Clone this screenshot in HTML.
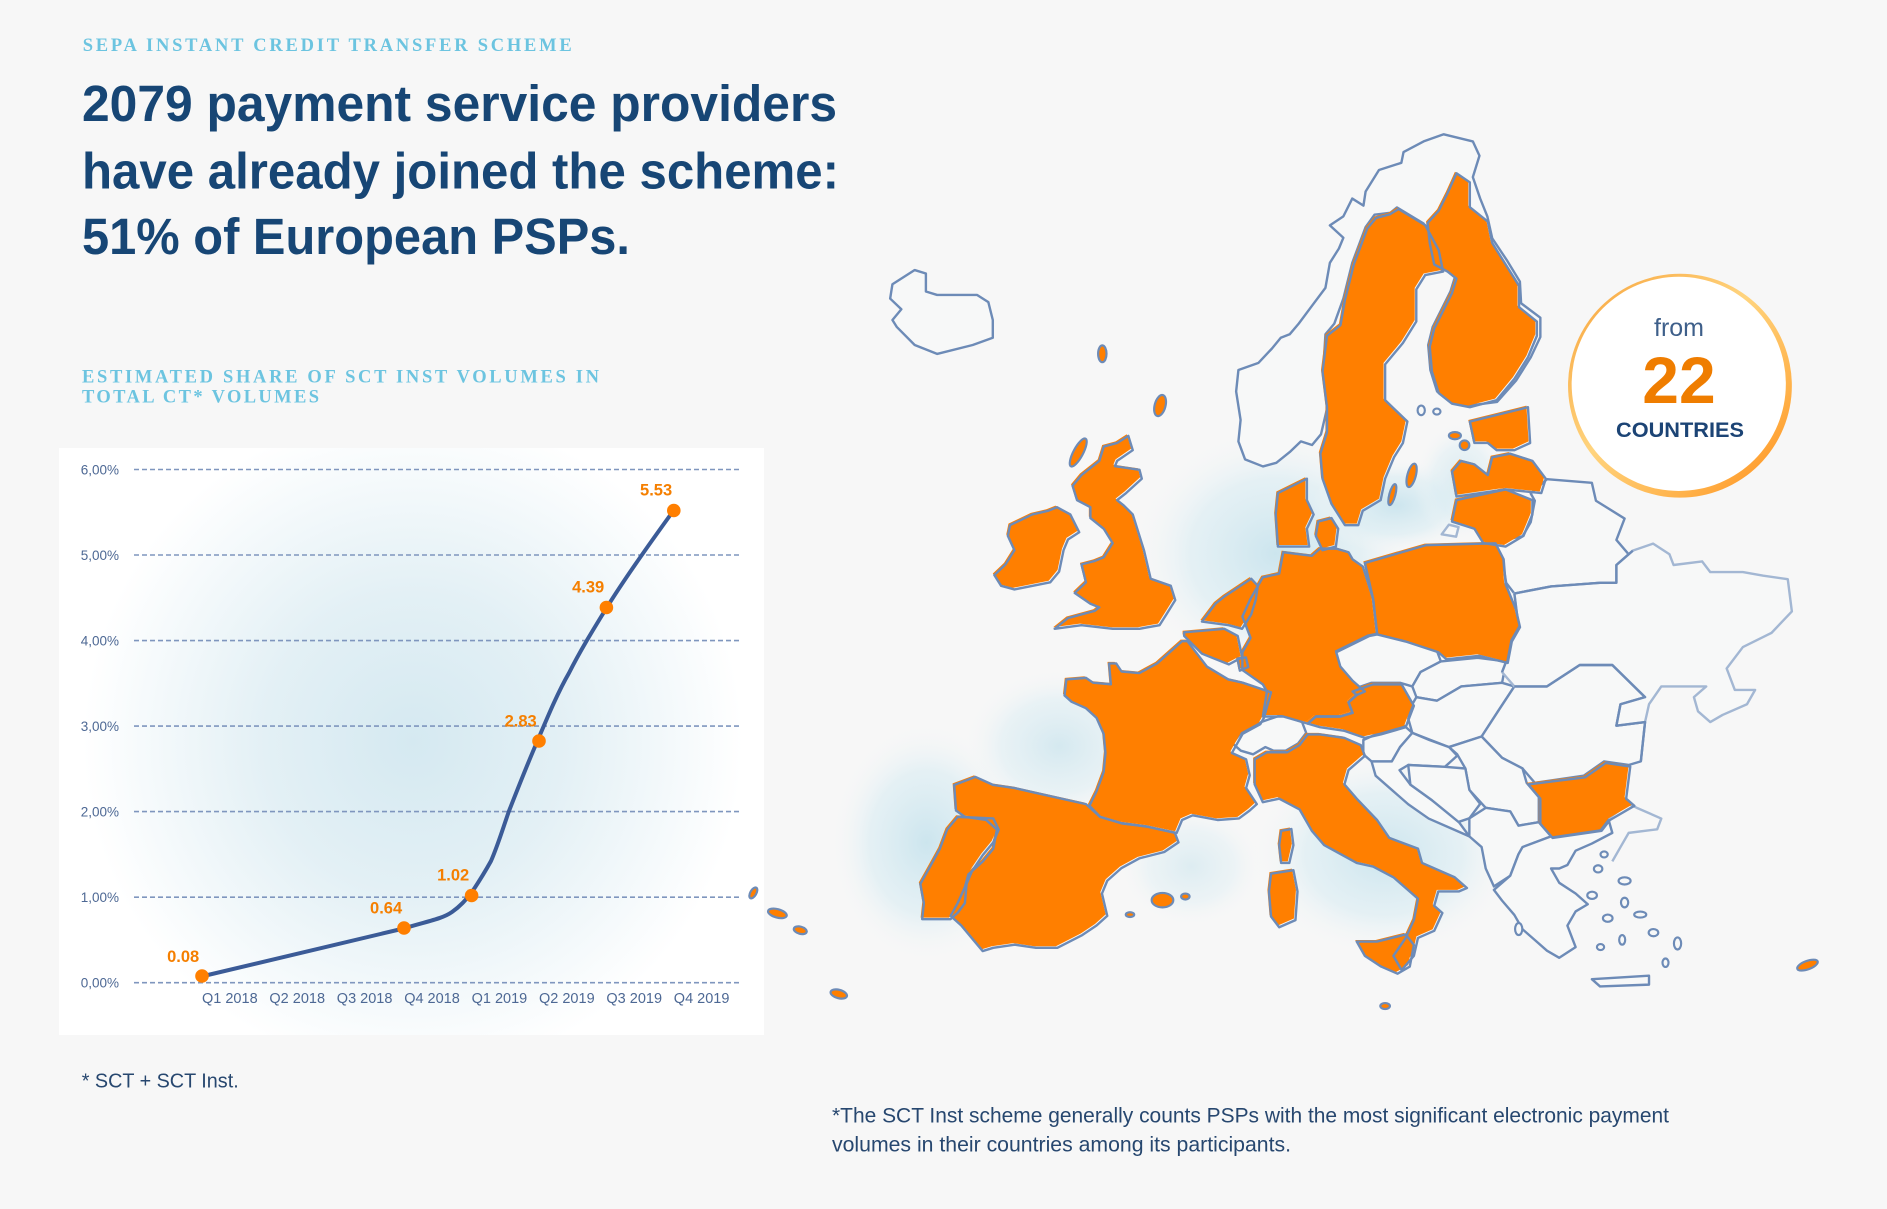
<!DOCTYPE html>
<html>
<head>
<meta charset="utf-8">
<style>
  html,body{margin:0;padding:0;background:#f7f7f7;}
  svg{display:block;}
  .sans{font-family:"Liberation Sans", sans-serif;}
  .serif{font-family:"Liberation Serif", serif;}
</style>
</head>
<body>
<svg width="1887" height="1209" viewBox="0 0 1887 1209" xmlns="http://www.w3.org/2000/svg">
  <defs>
    <radialGradient id="chartGlow" cx="413" cy="742" r="330" gradientUnits="userSpaceOnUse">
      <stop offset="0" stop-color="#d5e9f1"/>
      <stop offset="0.45" stop-color="#e3f0f5"/>
      <stop offset="1" stop-color="#ffffff"/>
    </radialGradient>
    <radialGradient id="mapGlow" cx="0.5" cy="0.5" r="0.5">
      <stop offset="0" stop-color="#cce5ee" stop-opacity="1"/>
      <stop offset="0.6" stop-color="#dbedf3" stop-opacity="0.65"/>
      <stop offset="1" stop-color="#f7f7f7" stop-opacity="0"/>
    </radialGradient>
    <linearGradient id="ringGrad" x1="0" y1="0" x2="1" y2="1">
      <stop offset="0" stop-color="#f7a23a"/>
      <stop offset="0.45" stop-color="#ffd47e"/>
      <stop offset="0.75" stop-color="#ffb24a"/>
      <stop offset="1" stop-color="#ff8a14"/>
    </linearGradient>
  </defs>

  <rect x="0" y="0" width="1887" height="1209" fill="#f7f7f7"/>

  <!-- Header texts -->
  <text class="serif" x="82.7" y="51" font-size="18.5" font-weight="bold" fill="#6cc4e0" textLength="489" lengthAdjust="spacing">SEPA INSTANT CREDIT TRANSFER SCHEME</text>
  <g class="sans" font-weight="bold" fill="#174675" font-size="51">
    <text x="82" y="121" textLength="755" lengthAdjust="spacingAndGlyphs">2079 payment service providers</text>
    <text x="82" y="188.5" textLength="757" lengthAdjust="spacingAndGlyphs">have already joined the scheme:</text>
    <text x="82" y="254" textLength="548" lengthAdjust="spacingAndGlyphs">51% of European PSPs.</text>
  </g>
  <text class="serif" x="82" y="382.5" font-size="18.5" font-weight="bold" fill="#6cc4e0" textLength="517" lengthAdjust="spacing">ESTIMATED SHARE OF SCT INST VOLUMES IN</text>
  <text class="serif" x="82" y="402.5" font-size="18.5" font-weight="bold" fill="#6cc4e0" textLength="237" lengthAdjust="spacing">TOTAL CT* VOLUMES</text>

  <!-- Chart box -->
  <rect x="59" y="448" width="705" height="587" fill="url(#chartGlow)"/>
  <g stroke="#7f96be" stroke-width="1.6" stroke-dasharray="5 3" fill="none">
    <line x1="134" y1="469.5" x2="739" y2="469.5"/>
    <line x1="134" y1="555" x2="739" y2="555"/>
    <line x1="134" y1="640.6" x2="739" y2="640.6"/>
    <line x1="134" y1="726.1" x2="739" y2="726.1"/>
    <line x1="134" y1="811.6" x2="739" y2="811.6"/>
    <line x1="134" y1="897.2" x2="739" y2="897.2"/>
    <line x1="134" y1="982.7" x2="739" y2="982.7"/>
  </g>
  <g class="sans" font-size="13.5" fill="#4d6894" text-anchor="end">
    <text x="119" y="474.5">6,00%</text>
    <text x="119" y="560">5,00%</text>
    <text x="119" y="645.6">4,00%</text>
    <text x="119" y="731.1">3,00%</text>
    <text x="119" y="816.6">2,00%</text>
    <text x="119" y="902.2">1,00%</text>
    <text x="119" y="987.7">0,00%</text>
  </g>
  <g class="sans" font-size="14.5" fill="#4d6894">
    <text x="202" y="1003">Q1 2018</text>
    <text x="269.4" y="1003">Q2 2018</text>
    <text x="336.8" y="1003">Q3 2018</text>
    <text x="404.2" y="1003">Q4 2018</text>
    <text x="471.6" y="1003">Q1 2019</text>
    <text x="539" y="1003">Q2 2019</text>
    <text x="606.4" y="1003">Q3 2019</text>
    <text x="673.8" y="1003">Q4 2019</text>
  </g>
  <path d="M201.5,976.5 L403.6,928.5 C428,921 442,919 452,912 C462,905 467,898 472,892 C480,880 486,870 491,861 C498,845 503,828 509,811 C518,788 527,765 537,742 C548,716 558,692 569,673 C580,651 593,630 606.5,608 C625,578 650,543 673.6,510.5" fill="none" stroke="#3b5b97" stroke-width="4" stroke-linecap="round" stroke-linejoin="round"/>
  <g fill="#ff7f00">
    <circle cx="202" cy="976" r="6.8"/>
    <circle cx="404" cy="928" r="6.8"/>
    <circle cx="471.6" cy="895.5" r="6.8"/>
    <circle cx="539" cy="741" r="6.8"/>
    <circle cx="606.4" cy="607.5" r="6.8"/>
    <circle cx="673.8" cy="510.5" r="6.8"/>
  </g>
  <g class="sans" font-size="16.5" font-weight="bold" fill="#f57f00" text-anchor="middle">
    <text x="183.2" y="962">0.08</text>
    <text x="386.1" y="913.5">0.64</text>
    <text x="453.2" y="880.5">1.02</text>
    <text x="520.7" y="726.5">2.83</text>
    <text x="588.2" y="592.5">4.39</text>
    <text x="656.1" y="495.5">5.53</text>
  </g>

  <!-- footnotes -->
  <text class="sans" x="81.7" y="1087.7" font-size="20.5" fill="#27476f" textLength="157" lengthAdjust="spacingAndGlyphs">* SCT + SCT Inst.</text>
  <text class="sans" x="832" y="1122.3" font-size="21" fill="#27476f" textLength="837" lengthAdjust="spacingAndGlyphs">*The SCT Inst scheme generally counts PSPs with the most significant electronic payment</text>
  <text class="sans" x="832" y="1151.7" font-size="21" fill="#27476f" textLength="459" lengthAdjust="spacingAndGlyphs">volumes in their countries among its participants.</text>

  <!-- MAP in display coords -->
  <g transform="scale(1.2034)">
    <!-- glows -->
    <ellipse cx="1060" cy="460" rx="120" ry="105" fill="url(#mapGlow)"/>
    <ellipse cx="1160" cy="420" rx="70" ry="40" fill="url(#mapGlow)"/>
    <ellipse cx="1150" cy="710" rx="110" ry="85" fill="url(#mapGlow)"/>
    <ellipse cx="770" cy="700" rx="80" ry="100" fill="url(#mapGlow)"/>
    <ellipse cx="880" cy="620" rx="80" ry="65" fill="url(#mapGlow)" opacity="0.8"/>
    <ellipse cx="1215" cy="400" rx="40" ry="50" fill="url(#mapGlow)" opacity="0.7"/>
    <ellipse cx="990" cy="720" rx="60" ry="50" fill="url(#mapGlow)" opacity="0.6"/>

    <!-- non-orange land (bg fill + outline) -->
    <g fill="#f7f8f8" stroke="#6d8bb7" stroke-width="2" stroke-linejoin="round">
      <path d="M741.6,236.2 L760.1,224.4 L769.4,227.3 L769.4,242.2 L778.7,245.1 L812,245.1 L821.3,251.1 L825,265.9 L825,280.7 L808.3,286.7 L778.7,294.1 L760.1,286.7 L745.3,271.8 L741.6,265.9 L749,257 L739.7,248.1 Z"/>
      <path d="M1049.5,387.6 L1034.6,381.7 L1029.1,366.8 L1030.9,349 L1027.2,325.3 L1029.1,307.5 L1045.8,301.5 L1056.9,289.7 L1064.3,280.7 L1071.7,277.8 L1079.2,268.9 L1090.3,254 L1101.4,239.2 L1105.1,218.4 L1112.6,206.5 L1116.3,197.6 L1105.1,187.3 L1116.3,179.8 L1123.7,165 L1133,170.9 L1134.8,159.1 L1145.9,141.3 L1164.5,135.3 L1166.3,126.4 L1183,117.5 L1199.7,111.6 L1223.9,117.5 L1229.4,129.4 L1223.9,147.2 L1230,165 L1236,180 L1240,198 L1252,216 L1263,234 L1264,252 L1280,264 L1280,280 L1272,297 L1260,316 L1244,334 L1220.1,337.1 L1205.3,334.2 L1194.2,325.3 L1188.6,307.5 L1186.8,286.7 L1190.5,271.8 L1197.9,257 L1205.3,242.2 L1209,230.3 L1201.6,224.4 L1197.9,224.4 L1194.2,206.5 L1183,185.8 L1160.8,172.4 L1155.2,176.9 L1142.2,178.4 L1134.8,188.7 L1123.7,218.4 L1116.3,248.1 L1108.8,268.9 L1101.4,277.8 L1099.6,307.5 L1103.3,337.1 L1097.7,360.9 L1090.3,369.8 L1081,366.8 L1071.7,375.7 L1060.6,384.6 Z"/>
      <path d="M1031.1,609 L1048.1,600 L1065,594.1 L1082,600 L1085.4,609 L1078.6,617.9 L1068.4,623.8 L1058.3,623.8 L1051.5,620.8 L1041.3,626.8 L1031.1,623.8 L1024.3,617.9 Z"/>
      <path d="M1109.1,540.7 L1136.3,527.3 L1143.1,525.9 L1166.8,531.8 L1194,540.7 L1197.3,549.6 L1180.4,558.5 L1173.6,570.4 L1163.4,567.4 L1139.7,567.4 L1122.7,573.3 L1112.5,552.6 Z"/>
      <path d="M1197.3,549.6 L1227.9,546.6 L1251.6,549.6 L1248.2,567.4 L1214.3,570.4 L1194,582.3 L1177,579.3 L1173.6,570.4 L1180.4,558.5 Z"/>
      <path d="M1177,579.3 L1194,582.3 L1214.3,570.4 L1248.2,567.4 L1258.4,570.4 L1244.8,591.1 L1231.2,612 L1204.1,620.8 L1173.6,609 L1170.2,597.1 L1173.6,585.2 Z"/>
      <path d="M1258.4,570.4 L1285.5,570.4 L1312.7,552.6 L1339.8,552.6 L1367,579.3 L1346.6,585.2 L1343.2,603 L1367,600 L1363.5,632.7 L1353.4,635.7 L1333,632.7 L1316,644.6 L1275.4,650.5 L1265.2,638.6 L1248.2,629.7 L1231.2,612 L1244.8,591.1 Z"/>
      <path d="M1204.1,620.8 L1231.2,612 L1248.2,629.7 L1265.2,638.6 L1268.6,650.5 L1278.7,662.4 L1278.7,683.2 L1261.8,686.1 L1255,674.3 L1234.6,671.3 L1221,656.4 L1217.7,638.6 L1210.9,626.8 Z"/>
      <path d="M1132.9,614.9 L1146,609 L1166.8,603 L1173.6,609 L1163.4,620.8 L1156.6,632.7 L1139.7,632.7 L1132.9,626.8 Z"/>
      <path d="M1163.4,620.8 L1173.6,609 L1188,615 L1204.1,620.8 L1210.9,628 L1200.7,637.2 L1170.2,635.7 L1163,640 L1172,652 L1190,665 L1210,680 L1221,695 L1207.5,689.1 L1187.2,680.2 L1170.2,668.3 L1156.6,656.4 L1143.1,644.6 L1139.7,632.7 L1156.6,632.7 Z"/>
      <path d="M1170.2,635.7 L1200.7,637.2 L1217.7,638.6 L1221,656.4 L1230,668 L1221,680 L1212,683 L1190,665 L1172,652 Z"/>
      <path d="M1221,680 L1234.6,671.3 L1255,674.3 L1261.8,686.1 L1278.7,683.2 L1288.9,695 L1265.2,703.9 L1261.8,709.9 L1255,727.7 L1241.4,736.6 L1234.6,721.7 L1231.2,703.9 L1221,695 Z"/>
      <path d="M1241.4,739.5 L1255,727.7 L1261.8,709.9 L1265.2,703.9 L1288.9,695 L1329.6,689.1 L1336.4,680.2 L1339.8,692.1 L1322.8,701 L1309.3,706.9 L1302.5,718.8 L1295.7,721.7 L1288.9,721.7 L1295.7,733.6 L1309.3,742.5 L1319.4,751.4 L1309.3,757.4 L1302.5,769.2 L1309.3,787 L1295.7,795.9 L1285.5,790 L1275.4,781.1 L1265.2,772.2 L1258.4,760.3 L1248.2,748.4 Z"/>
      <path d="M1322.8,813.7 L1370.3,810.8 L1370.3,818.2 L1329.6,819.7 Z"/>
      <path d="M1272,410.1 L1285.5,398.2 L1322.8,401.2 L1326.2,416.1 L1350,430.9 L1343.2,448.7 L1353.4,460.6 L1343.2,469.5 L1343.2,484.3 L1329.6,484.3 L1288.9,487.3 L1258.4,493.2 L1251.6,484.3 L1248.2,463.5 L1241.4,450.2 L1265.2,445.7 L1272,433.9 L1275.4,416.1 Z"/>
    </g>
    <g fill="#f7f8f8" stroke="#a3b7d3" stroke-width="2" stroke-linejoin="round">
      <path d="M1258.4,493.2 L1288.9,487.3 L1329.6,484.3 L1343.2,484.3 L1343.2,469.5 L1356.8,457.6 L1373.7,451.7 L1387.3,460.6 L1390.7,469.5 L1414.4,466.5 L1421.2,475.4 L1448.3,475.4 L1465.3,478.4 L1485.6,481.3 L1489,508.1 L1472.1,525.9 L1448.3,537.7 L1434.8,555.5 L1441.6,573.3 L1458.5,573.3 L1451.7,585.2 L1431.4,594.1 L1421.2,600 L1411,591.1 L1407.6,579.3 L1417.8,570.4 L1380.5,570.4 L1370.3,585.2 L1367,600 L1343.2,603 L1346.6,585.2 L1367,579.3 L1339.8,552.6 L1312.7,552.6 L1285.5,570.4 L1258.4,570.4 L1248.2,558.5 L1251.6,549.6 L1255,531.8 L1261.8,519.9 Z"/>
      <path d="M1336.4,680.2 L1353.4,668 L1360.2,671.3 L1380.5,680.2 L1377.1,689.1 L1353.4,692.1 L1346.6,703.9 L1339.8,715.8" fill="none"/>
      <path d="M1198,444 L1204,436 L1212,438 L1210,446 Z"/>
    </g>
    <g fill="none" stroke="#6d8bb7" stroke-width="2" stroke-linejoin="round">
      <path d="M1258.4,493.2 L1288.9,487.3 L1329.6,484.3 L1343.2,484.3 L1343.2,469.5 L1356.8,457.6"/>
      <path d="M1258.4,570.4 L1285.5,570.4 L1312.7,552.6 L1339.8,552.6 L1367,579.3 L1346.6,585.2 L1343.2,603 L1367,600 L1363.5,632.7"/>
      <path d="M1248.2,558.5 L1251.6,549.6 L1255,531.8 L1261.8,519.9 L1258.4,493.2"/>
    </g>
    <g fill="#f7f8f8" stroke="#6d8bb7" stroke-width="1.8">
      <ellipse cx="1333" cy="710" rx="3" ry="2.5"/>
      <ellipse cx="1328" cy="722" rx="3.5" ry="3"/>
      <ellipse cx="1350" cy="732" rx="5" ry="3"/>
      <ellipse cx="1323" cy="744" rx="4" ry="3"/>
      <ellipse cx="1350" cy="750" rx="3" ry="4"/>
      <ellipse cx="1363" cy="760" rx="5" ry="2.5"/>
      <ellipse cx="1336" cy="763" rx="4" ry="3"/>
      <ellipse cx="1374" cy="775" rx="4" ry="3"/>
      <ellipse cx="1348" cy="781" rx="2.5" ry="4"/>
      <ellipse cx="1394" cy="784" rx="3" ry="5"/>
      <ellipse cx="1330" cy="787" rx="3" ry="2.5"/>
      <ellipse cx="1384" cy="800" rx="2.5" ry="3.5"/>
      <ellipse cx="1262" cy="772" rx="3" ry="5"/>
      <ellipse cx="1181" cy="341" rx="3" ry="4"/>
      <ellipse cx="1194" cy="342" rx="3" ry="2.5"/>
    </g>

    <!-- Orange countries -->
    <g fill="#ff7f00">
      <path id="ie" d="M838,435.1 L856.6,426.2 L869.5,423.2 L877,420.2 L888.1,426.2 L895.5,441 L886.2,447 L882.5,455.9 L878.8,473.7 L871.4,482.6 L841.7,488.5 L830.6,485.5 L825,476.6 L834.3,467.7 L841.7,455.9 L836.2,444 Z"/>
      <path id="gb" d="M936.3,360.9 L940,372.8 L927,381.7 L925.2,386.1 L945.6,389.1 L947.5,396.5 L934.5,408.4 L927,414.3 L932.6,418.8 L940,426.2 L949.3,455.9 L954.9,479.6 L971.6,485.5 L975.3,497.4 L967.9,509.3 L962.3,518.2 L945.6,521.2 L923.3,521.2 L897.4,518.2 L875.1,521.2 L886.2,512.3 L908.5,506.3 L912.2,503.4 L904.8,500.4 L891.8,491.5 L901.1,482.6 L897.4,467.7 L908.5,464.8 L915.9,461.8 L923.3,450 L915.9,438.1 L904.8,429.2 L904.8,420.2 L893.7,414.3 L890,402.4 L897.4,393.5 L912.2,381.7 L915.9,369.8 L927,366.8 Z"/>
      <path id="se" d="M1160.8,172.4 L1183,185.8 L1194.2,206.5 L1197.9,224.4 L1183,227.3 L1175.6,239.2 L1175.6,265.9 L1164.5,283.7 L1149.7,301.5 L1149.7,331.2 L1168.2,349 L1164.5,366.8 L1157.1,378.7 L1149.7,396.5 L1146,414.3 L1131.1,423.2 L1127.4,435.1 L1116.3,435.1 L1105.1,417.3 L1097.7,396.5 L1095.9,375.7 L1101.4,357.9 L1101.4,337.1 L1097.7,307.5 L1101.4,277.8 L1112.6,268.9 L1116.3,248.1 L1123.7,218.4 L1134.8,188.7 L1142.2,179.8 L1153.4,176.9 Z"/>
      <path id="fi" d="M1209,142.7 L1220.1,150.2 L1220.1,170.9 L1235,182.8 L1238.7,200.6 L1249.8,218.4 L1261,236.2 L1261,254 L1275.8,265.9 L1275.8,277.8 L1268.4,295.6 L1257.2,313.4 L1242.4,331.2 L1220.1,337.1 L1205.3,334.2 L1194.2,325.3 L1188.6,307.5 L1186.8,286.7 L1190.5,271.8 L1197.9,257 L1205.3,242.2 L1209,230.3 L1201.6,224.4 L1190.5,218.4 L1186.8,200.6 L1185,184 L1194.2,173.9 L1201.6,159.1 Z"/>
      <path id="ee" d="M1220.1,349 L1268.4,337.1 L1270.2,366.8 L1257.2,372.8 L1242.4,372.8 L1235,366.8 L1223.9,366.8 Z"/>
      <path id="lv" d="M1205.3,390.6 L1212.7,381.7 L1223.9,384.6 L1235,393.5 L1238.7,378.7 L1253.5,375.7 L1272.1,381.7 L1283.2,396.5 L1279.5,408.4 L1249.8,405.4 L1209,411.3 Z"/>
      <path id="lt" d="M1209,414.3 L1249.8,405.4 L1272.1,414.3 L1272.1,426.2 L1264.7,444 L1249.8,452.9 L1231.3,450 L1223.9,438.1 L1205.3,432.1 Z"/>
      <path id="dk1" d="M1060.6,408.4 L1084.7,396.5 L1084.7,414.3 L1090.3,426.2 L1084.7,438.1 L1086.6,452.9 L1075.5,452.9 L1060.6,452.9 L1058.8,426.2 Z"/>
      <path id="dk2" d="M1094,432.1 L1105.1,429.2 L1110.7,438.1 L1108.8,452.9 L1097.7,455.9 L1092.1,444 Z"/>
      <path id="fr" d="M884.8,563.3 L901.1,562 L907,566 L921.8,567.3 L920.3,550 L926.2,550 L930.7,556.7 L945.5,558 L960.2,550 L972.1,539.4 L981,531.5 L985.4,531.5 L1001.7,552.7 L1019.4,563.3 L1031.3,566 L1054.9,574 L1049,595.2 L1046,600.5 L1031.3,608.5 L1022.4,624.4 L1034.2,629.7 L1037.2,643 L1034.2,653.6 L1043.1,666.9 L1037.2,672.2 L1028.3,678.8 L1010.5,680.1 L989.8,676.2 L981,680.1 L976.5,690.8 L951.4,685.5 L930.7,682.8 L912.9,677.5 L904,668.2 L909.9,656.3 L915.8,640.3 L917.3,624.4 L915.8,608.5 L909.9,595.2 L901.1,587.2 L889.2,581.9 L883.3,576.6 Z"/>
      <path id="es" d="M791.6,651 L809.3,644.3 L824.1,651 L841.9,653.6 L859.6,657.6 L901.1,666.9 L912.9,677.5 L930.7,682.8 L951.4,685.5 L975,690.8 L978,698.7 L966.2,706.7 L945.4,712 L930.7,720 L918.8,730.6 L914.4,741.2 L918.8,759.8 L909.9,767.8 L898.1,775.7 L877.4,786.3 L859.6,786.3 L841.9,783.7 L824.1,786.3 L815.3,789 L806.4,778.4 L797.5,767.8 L788.6,759.8 L794.5,749.2 L800.5,735.9 L803.4,725.3 L815.3,714.7 L824.1,704 L827.1,688.1 L818.2,680.1 L800.5,677.5 L793.1,672.2 Z"/>
      <path id="pt" d="M794.5,677.5 L824.1,678.8 L828.6,688.1 L824.1,698.7 L815.3,709.4 L806.4,722.6 L801.9,733.2 L800.5,749.2 L794.5,757.2 L788.6,762.5 L765,762.5 L766.4,749.2 L763.5,733.2 L770.9,720 L779.7,704 L785.7,688.1 Z"/>
      <path id="nl" d="M1016.1,494.4 L1038.4,479.6 L1043.9,485.5 L1042.1,497.4 L1038.4,509.3 L1030.9,521.2 L1019.8,518.2 L997.5,515.2 L1008.7,500.4 Z"/>
      <path id="be" d="M982.7,524.1 L1016.1,521.2 L1027.2,527.1 L1030.9,544.9 L1019.8,550.8 L997.5,541.9 L982.7,527.1 Z"/>
      <path id="lu" d="M1027,546 L1034,545 L1036,553 L1029,556 Z"/>
      <path id="de" d="M1065,457.6 L1088.8,460.6 L1095.6,454.6 L1109.1,454.6 L1119.3,457.6 L1122.7,463.5 L1131.2,469.5 L1139.7,496.2 L1143.1,525.9 L1136.3,527.3 L1109.1,540.7 L1112.5,552.6 L1122.7,564.4 L1132.9,573.3 L1126.1,576.3 L1119.3,582.3 L1122.7,591.1 L1112.5,594.1 L1092.2,594.1 L1085.4,600 L1065,594.1 L1048.1,594.1 L1051.5,573.3 L1048.1,567.4 L1031.1,555.5 L1031.1,540.7 L1037.9,528.8 L1031.1,511 L1037.9,496.2 L1048.1,478.4 L1061.7,475.4 Z"/>
      <path id="pl" d="M1132.9,466.5 L1183.8,451.7 L1241.4,450.2 L1248.2,463.5 L1249.9,484.3 L1258.4,505.1 L1261.8,519.9 L1255,531.8 L1251.6,549.6 L1227.9,543.7 L1200.7,546.6 L1194,540.7 L1166.8,531.8 L1143.1,525.9 L1139.7,496.2 Z"/>
      <path id="at" d="M1122.7,573.3 L1139.7,567.4 L1163.4,567.4 L1173.6,585.2 L1166.8,603 L1146.4,608.9 L1132.9,611.9 L1115.9,606 L1095.6,603 L1085.4,600 L1092.2,594.1 L1112.5,594.1 L1122.7,591.1 L1119.3,582.3 L1126.1,576.3 Z"/>
      <path id="it" d="M1041.3,629.7 L1051.5,623.8 L1068.4,623.8 L1078.6,617.9 L1085.4,609 L1095.6,609 L1115.9,611.9 L1129.5,617.9 L1132.9,626.8 L1119.3,638.6 L1115.9,650.5 L1126.1,662.4 L1143.1,680.2 L1153.2,695 L1177,703.9 L1180.4,715.8 L1207.5,727.7 L1217.7,736.6 L1210.9,739.5 L1193.9,739.5 L1190.5,751.4 L1197.3,757.4 L1190.5,772.2 L1177,778.1 L1173.6,793 L1163.4,804.8 L1156.6,793 L1166.8,778.1 L1173.6,763.3 L1177,745.5 L1156.6,727.7 L1139.7,718.8 L1126.1,715.8 L1099,700.9 L1088.8,689.1 L1078.6,671.3 L1061.7,662.4 L1048.1,665.3 L1041.3,650.5 Z"/>
      <path id="sic" d="M1126.1,781.1 L1143.1,781.1 L1166.8,775.2 L1173.6,784 L1170.2,801.9 L1160,807.8 L1146.4,801.9 L1132.9,793 Z"/>
      <path id="sar" d="M1054.9,724.7 L1073.5,721.8 L1076.9,739.5 L1075.2,763.3 L1061.7,769.2 L1054.9,760.3 L1053.2,739.5 Z"/>
      <path id="cor" d="M1063.3,689.1 L1071.8,687.6 L1073.5,701 L1070.1,715.8 L1063.3,715.8 L1061.7,701 Z"/>
      <path id="bg" d="M1268.6,650.5 L1316,644.6 L1333,632.7 L1353.4,635.7 L1350,662.4 L1356.8,668.3 L1336.4,680.2 L1329.6,689.1 L1288.9,695 L1278.7,683.2 L1278.7,662.4 Z"/>
    </g>
    <g fill="none" stroke="#6d8bb7" stroke-width="2" stroke-linejoin="round" transform="translate(1.3,1.3)">
      <use href="#ie"/><use href="#gb"/><use href="#se"/><use href="#fi"/><use href="#ee"/><use href="#lv"/><use href="#lt"/>
      <use href="#dk1"/><use href="#dk2"/><use href="#fr"/><use href="#es"/><use href="#pt"/><use href="#nl"/><use href="#be"/>
      <use href="#lu"/><use href="#de"/><use href="#pl"/><use href="#at"/><use href="#it"/><use href="#sic"/><use href="#sar"/>
      <use href="#cor"/><use href="#bg"/>
    </g>
    <g fill="#ff7f00" stroke="#6d8bb7" stroke-width="1.8">
      <ellipse cx="896" cy="376" rx="4" ry="13" transform="rotate(28 896 376)"/>
      <ellipse cx="916" cy="294" rx="3.5" ry="7"/>
      <ellipse cx="964" cy="337" rx="4.5" ry="9" transform="rotate(15 964 337)"/>
      <ellipse cx="1173" cy="395" rx="3.5" ry="10" transform="rotate(15 1173 395)"/>
      <ellipse cx="1157" cy="411" rx="2.5" ry="9" transform="rotate(15 1157 411)"/>
      <ellipse cx="1209" cy="362" rx="5" ry="3"/>
      <ellipse cx="1217" cy="370" rx="4" ry="4"/>
      <ellipse cx="966" cy="748" rx="9" ry="6"/>
      <ellipse cx="985" cy="745" rx="3.5" ry="2.5"/>
      <ellipse cx="939" cy="760" rx="3.5" ry="2"/>
      <ellipse cx="1151" cy="836" rx="4" ry="2.5"/>
      <ellipse cx="1502" cy="802" rx="9" ry="3.5" transform="rotate(-20 1502 802)"/>
      <ellipse cx="626" cy="742" rx="2.5" ry="5" transform="rotate(30 626 742)"/>
      <ellipse cx="646" cy="759" rx="8" ry="3.5" transform="rotate(15 646 759)"/>
      <ellipse cx="665" cy="773" rx="5.5" ry="3" transform="rotate(15 665 773)"/>
      <ellipse cx="697" cy="826" rx="7" ry="3.5" transform="rotate(15 697 826)"/>
    </g>

    <!-- Circle badge -->
    <circle cx="1396" cy="320.5" r="93" fill="url(#ringGrad)"/>
    <circle cx="1395" cy="319" r="89" fill="#ffffff"/>
  </g>
  <text class="sans" x="1679" y="336" font-size="25" fill="#3e5f8a" text-anchor="middle">from</text>
  <text class="sans" x="1679" y="403" font-size="66" font-weight="bold" fill="#ef7d00" text-anchor="middle">22</text>
  <text class="sans" x="1616" y="437" font-size="21" font-weight="bold" fill="#1c4475" textLength="128" lengthAdjust="spacingAndGlyphs">COUNTRIES</text>
</svg>
</body>
</html>
